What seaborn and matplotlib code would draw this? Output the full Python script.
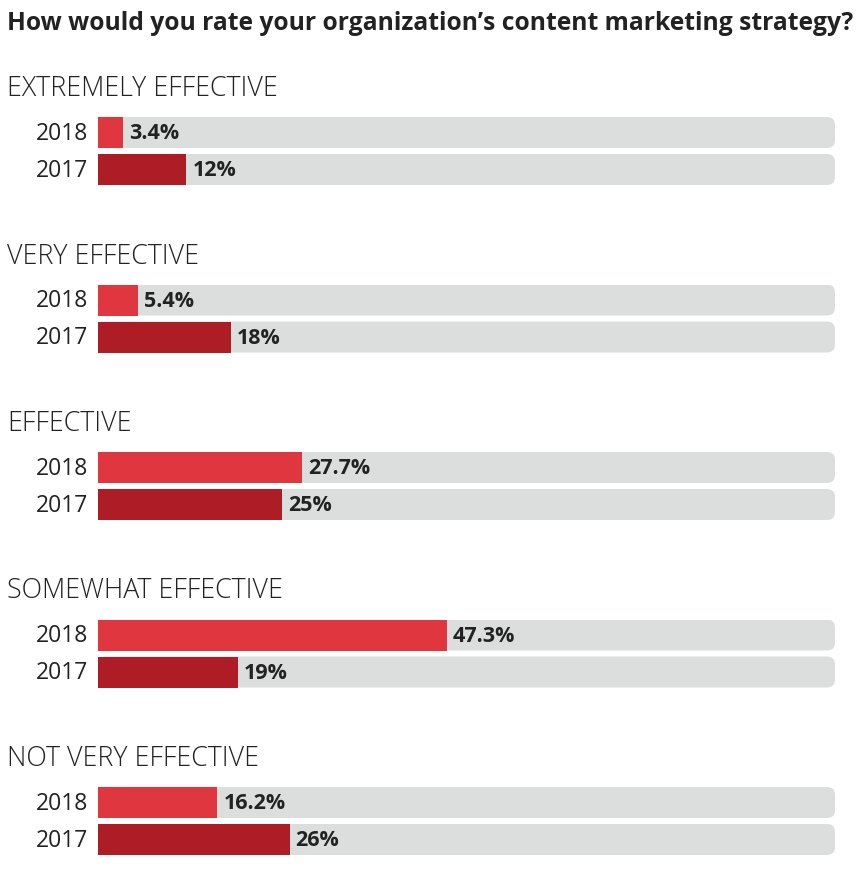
import matplotlib
matplotlib.use("Agg")
import matplotlib.pyplot as plt
from matplotlib.patches import FancyBboxPatch
import seaborn as sns
import pandas as pd

# ---- data ----
title = "How would you rate your organization\u2019s content marketing strategy?"
categories = ["EXTREMELY EFFECTIVE", "VERY EFFECTIVE", "EFFECTIVE",
              "SOMEWHAT EFFECTIVE", "NOT VERY EFFECTIVE"]
years = ["2018", "2017"]
values_2018 = [3.4, 5.4, 27.7, 47.3, 16.2]
values_2017 = [12, 18, 25, 19, 26]
labels_2018 = ["3.4%", "5.4%", "27.7%", "47.3%", "16.2%"]
labels_2017 = ["12%", "18%", "25%", "19%", "26%"]
track_max = 100

# ---- style ----
sns.set_theme(style="white")
plt.rcParams["font.family"] = ["Open Sans", "DejaVu Sans"]
col_2018 = "#E0363F"
col_2017 = "#AE1C25"
col_track = "#DCDDDD"
text_col = "#222222"

W, H = 860, 873
fig = plt.figure(figsize=(W / 100, H / 100), dpi=100)
fig.patch.set_facecolor("white")
renderer = fig.canvas.get_renderer()


def fit_text(t, target_px):
    bb = t.get_window_extent(renderer=renderer)
    t.set_fontsize(t.get_fontsize() * target_px / bb.width)


tt = fig.text(7 / W, 1 - 23 / H, title, fontsize=16, fontweight="bold",
              color=text_col, va="center", ha="left")
fit_text(tt, 847)

ax_left, ax_right = 98, 835
group_step = 167.5
first_top = 117
ax_h = 68
bar_h = 31
unit = 37  # px between bar centers

for i, cat in enumerate(categories):
    top = first_top + group_step * i
    ax = fig.add_axes([ax_left / W, 1 - (top + ax_h) / H,
                       (ax_right - ax_left) / W, ax_h / H])
    ht = fig.text(7 / W, 1 - (top - 28) / H, cat, fontsize=15,
                  fontweight="light", color=text_col, va="center", ha="left")
    if i == 0:
        fit_text(ht, 270)
        head_fs = ht.get_fontsize()
    else:
        ht.set_fontsize(head_fs)

    df = pd.DataFrame({"year": years,
                       "value": [values_2018[i], values_2017[i]],
                       "track": [track_max, track_max]})
    # gray track
    sns.barplot(data=df, x="track", y="year", color=col_track,
                width=bar_h / unit, ax=ax, saturation=1, order=years)
    track_patches = list(ax.patches)
    for p in track_patches:
        x0, y0, w, h = p.get_x(), p.get_y(), p.get_width(), p.get_height()
        p.remove()
        rs = 8 / ((ax_right - ax_left) / track_max)
        fb = FancyBboxPatch((x0, y0), w, h,
                            boxstyle=f"round,pad=0,rounding_size={rs}",
                            mutation_aspect=(8 / unit) / rs,
                            facecolor=col_track, edgecolor="none", zorder=1)
        ax.add_patch(fb)
    # value bars
    sns.barplot(data=df, x="value", y="year", hue="year",
                palette={"2018": col_2018, "2017": col_2017},
                width=bar_h / unit, ax=ax, saturation=1, order=years,
                hue_order=years, legend=False)
    for p in ax.patches:
        if isinstance(p, FancyBboxPatch):
            continue
        p.set_zorder(2)
        p.set_edgecolor("none")

    labs = [labels_2018[i], labels_2017[i]]
    vals = [values_2018[i], values_2017[i]]
    for j, (v, lab) in enumerate(zip(vals, labs)):
        ax.text(v + 0.8, j + 0.03, lab, fontsize=15.5, fontweight="bold",
                color=text_col, va="center", ha="left", zorder=3)
        ax.text(-1.3, j + 0.03, years[j], fontsize=16.5, color=text_col,
                va="center", ha="right", zorder=3, clip_on=False)

    ax.set_xlim(0, track_max)
    ax.set_ylim(1 + (bar_h / 2) / unit, -(bar_h / 2) / unit)
    ax.set_xlabel("")
    ax.set_ylabel("")
    ax.set_xticks([])
    ax.set_yticks([])
    for s in ax.spines.values():
        s.set_visible(False)
    ax.patch.set_alpha(0)

fig.savefig("out.png", dpi=100, facecolor="white")
